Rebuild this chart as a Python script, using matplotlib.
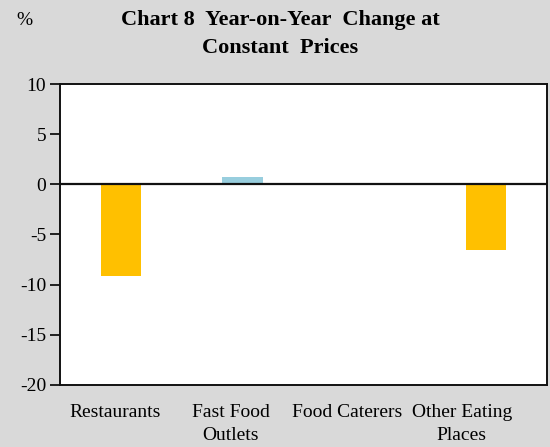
import matplotlib.pyplot as plt
import matplotlib.transforms as mtransforms

categories = ["Restaurants", "Fast Food\nOutlets", "Food Caterers", "Other Eating\nPlaces"]
values = [-9.1, 0.7, 0.0, -6.6]
colors = ["#FFC000", "#98CEDE", "#FFC000", "#FFC000"]

plt.rcParams['font.family'] = ['Liberation Serif', 'DejaVu Serif']
plt.rcParams['axes.unicode_minus'] = False

fig = plt.figure(figsize=(5.5, 4.47), dpi=100, facecolor="#d9d9d9")
ax = fig.add_axes([0.109, 0.139, 0.885, 0.673])
ax.set_facecolor("white")

x = range(len(categories))
ax.bar(x, values, width=0.33, color=colors, zorder=2)
ax.axhline(0, color="#111111", linewidth=1.6, zorder=3)

ax.set_xlim(-0.5, len(categories) - 0.5)
ax.set_ylim(-20, 10)
ax.set_yticks(range(-20, 11, 5))
ax.set_xticks(list(x))
ax.set_xticklabels(categories, fontsize=14, linespacing=1.4)
ax.tick_params(axis="x", length=0, pad=14)
ax.tick_params(axis="y", direction="out", length=7, width=1.2, labelsize=14, pad=3)
for s in ax.spines.values():
    s.set_color("#111111")
    s.set_linewidth(1.4)

# the labels in the original sit a little left of their bars
shifts = [-6, -12, -17, -24]
for lab, dx in zip(ax.get_xticklabels(), shifts):
    lab.set_transform(lab.get_transform() + mtransforms.ScaledTranslation(dx / 100, 0, fig.dpi_scale_trans))

fig.text(0.51, 0.955, "Chart 8  Year-on-Year  Change at", ha="center", va="center",
         fontsize=16, fontweight="bold")
fig.text(0.51, 0.893, "Constant  Prices", ha="center", va="center",
         fontsize=16, fontweight="bold")
fig.text(0.045, 0.955, "%", ha="center", va="center", fontsize=14)

fig.savefig("out.png", dpi=100, facecolor=fig.get_facecolor())
